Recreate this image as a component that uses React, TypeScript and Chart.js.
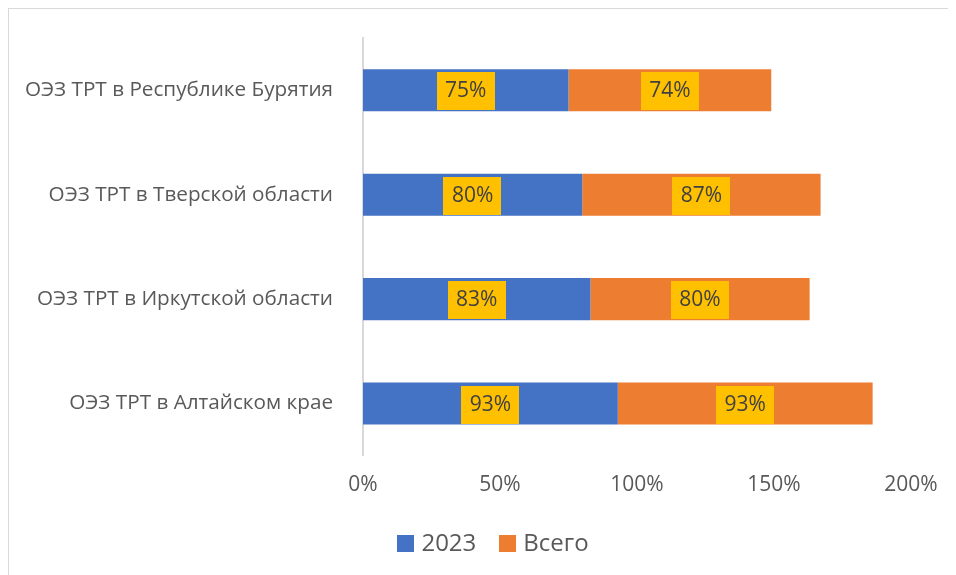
import React, { useEffect, useRef } from "react";
import { Chart, registerables } from "chart.js";

Chart.register(...registerables);

const categories = [
  "ОЭЗ ТРТ в Республике Бурятия",
  "ОЭЗ ТРТ в Тверской области",
  "ОЭЗ ТРТ в Иркутской области",
  "ОЭЗ ТРТ в Алтайском крае",
];
const values2023 = [75, 80, 83, 93];
const valuesTotal = [74, 87, 80, 93];
const seriesNames = ["2023", "Всего"];
const seriesColors = ["#4472C4", "#ED7D31"];
const xTicks = [0, 50, 100, 150, 200];

const FONT = "'Open Sans', 'DejaVu Sans', sans-serif";

const labelPlugin = {
  id: "boxLabels",
  afterDatasetsDraw(chart: any) {
    const ctx = chart.ctx;
    ctx.save();
    ctx.font = `21px ${FONT}`;
    ctx.textAlign = "center";
    ctx.textBaseline = "middle";
    chart.data.datasets.forEach((ds: any, di: number) => {
      const meta = chart.getDatasetMeta(di);
      meta.data.forEach((el: any, i: number) => {
        const p = el.getProps(["x", "y", "base", "height"], true);
        const cx = (p.x + p.base) / 2;
        const text = ds.data[i] + "%";
        const tw = ctx.measureText(text).width;
        const bw = tw + 17;
        const top = p.y - p.height / 2 + 3;
        const bh = p.height - 4;
        ctx.fillStyle = "#FFC000";
        ctx.fillRect(Math.round(cx - bw / 2), Math.round(top), Math.round(bw), Math.round(bh));
        ctx.fillStyle = "#404040";
        ctx.fillText(text, cx, p.y + 1);
      });
    });
    ctx.restore();
  },
};

const legendPlugin = {
  id: "customLegend",
  afterDraw(chart: any) {
    const ctx = chart.ctx;
    ctx.save();
    ctx.font = `24px ${FONT}`;
    ctx.textBaseline = "middle";
    ctx.textAlign = "left";
    const box = 17;
    const gap = 7;
    const itemGap = 23;
    const widths = chart.data.datasets.map((d: any) => ctx.measureText(d.label).width);
    const total = widths.reduce((a: number, w: number) => a + box + gap + w, 0) + itemGap * (widths.length - 1);
    let x = chart.width / 2 - total / 2;
    const cy = 534;
    chart.data.datasets.forEach((d: any, i: number) => {
      ctx.fillStyle = d.backgroundColor;
      ctx.fillRect(Math.round(x), Math.round(cy - box / 2), box, box);
      x += box + gap;
      ctx.fillStyle = "#595959";
      ctx.fillText(d.label, x, cy + 1);
      x += widths[i] + itemGap;
    });
    ctx.restore();
  },
};

export default function App() {
  const ref = useRef<HTMLCanvasElement>(null);
  useEffect(() => {
    document.documentElement.style.overflow = "hidden";
    document.body.style.overflow = "hidden";
    if (!ref.current) return;
    const chart = new Chart(ref.current, {
      type: "bar",
      data: {
        labels: categories,
        datasets: [
          {
            label: seriesNames[0],
            data: values2023,
            backgroundColor: seriesColors[0],
            barPercentage: 0.403,
            categoryPercentage: 1,
          },
          {
            label: seriesNames[1],
            data: valuesTotal,
            backgroundColor: seriesColors[1],
            barPercentage: 0.403,
            categoryPercentage: 1,
          },
        ],
      },
      options: {
        indexAxis: "y",
        animation: false,
        responsive: false,
        maintainAspectRatio: false,
        layout: { padding: { top: 29, left: 16, right: 66, bottom: 64 } },
        scales: {
          x: {
            stacked: true,
            min: 0,
            max: 200,
            afterBuildTicks(scale: any) {
              scale.ticks = xTicks.map((v) => ({ value: v }));
            },
            afterFit(scale: any) {
              scale.paddingLeft = 0;
              scale.paddingRight = 0;
            },
            ticks: {
              callback: (v: any) => v + "%",
              color: "#595959",
              font: { family: FONT, size: 21 },
              padding: 17,
            },
            grid: { display: false, drawTicks: false },
            border: { display: false },
          },
          y: {
            stacked: true,
            afterFit(scale: any) {
              scale.width = 338;
              scale.paddingTop = 0;
              scale.paddingBottom = 0;
            },
            ticks: {
              color: "#595959",
              font: { family: FONT, size: 20.7 },
              padding: 30,
            },
            grid: { display: false, drawTicks: false },
            border: { display: true, color: "#D9D9D9", width: 2 },
          },
        },
        plugins: {
          legend: { display: false },
          tooltip: { enabled: false },
        },
      },
      plugins: [labelPlugin, legendPlugin],
    } as any);
    return () => chart.destroy();
  }, []);
  return (
    <div
      style={{
        width: 968,
        height: 570,
        borderTop: "1px solid #D9D9D9",
        borderLeft: "1px solid #D9D9D9",
        background: "#fff",
      }}
    >
      <canvas ref={ref} width={968} height={570} style={{ display: "block" }} />
    </div>
  );
}
